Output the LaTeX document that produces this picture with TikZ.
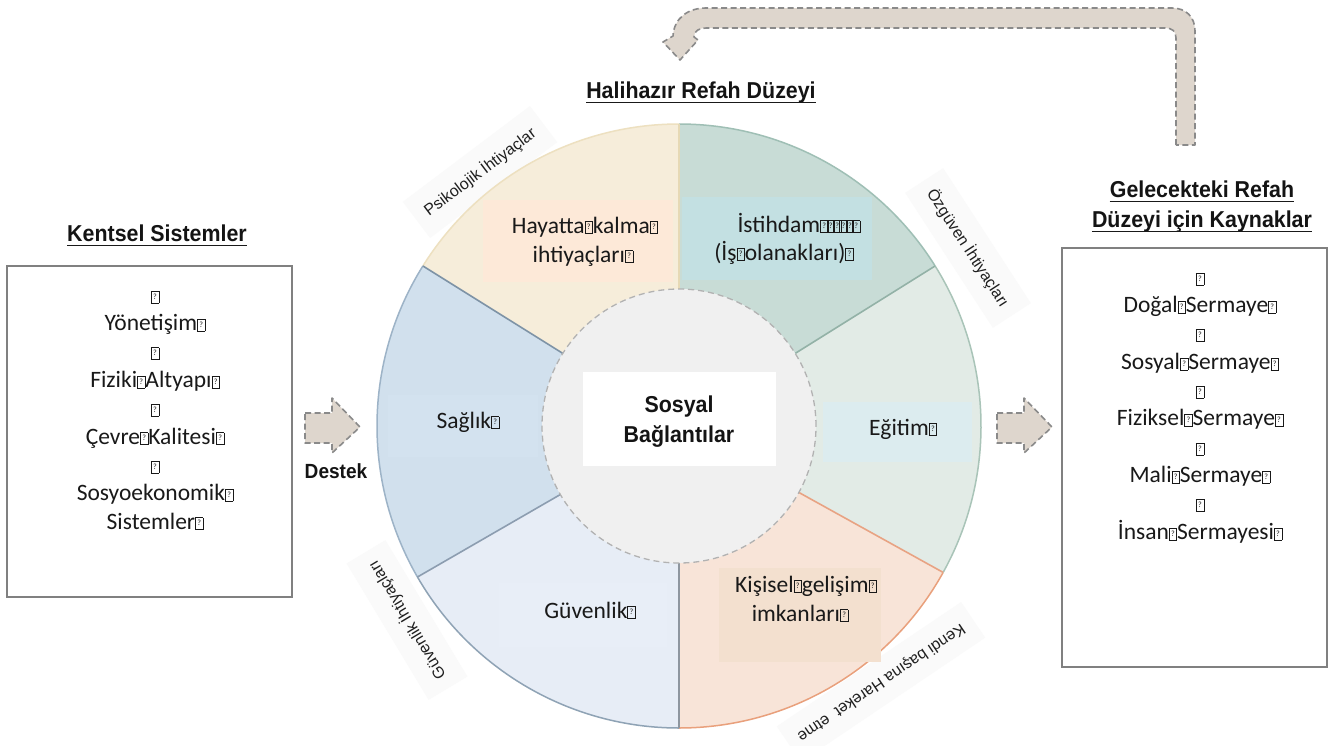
\documentclass[tikz,border=0pt]{standalone}
\usepackage{fontspec}
\setmainfont{Liberation Sans}
\newfontfamily\carl{Carlito}
\newfontfamily\hd[FakeStretch=0.93]{Liberation Sans Bold}
\definecolor{cTeal}{HTML}{C8DCD6}
\definecolor{cCream}{HTML}{F6EDDA}
\definecolor{cBlue}{HTML}{D1E0ED}
\definecolor{cLBlue}{HTML}{E7EDF6}
\definecolor{cPeach}{HTML}{F8E4D8}
\definecolor{cGreen}{HTML}{E2EBE6}
\definecolor{rTeal}{HTML}{9FBFB5}
\definecolor{rCream}{HTML}{EDE0C0}
\definecolor{rBlue}{HTML}{9DB3C7}
\definecolor{rLBlue}{HTML}{8FA3B5}
\definecolor{rPeach}{HTML}{E9A07C}
\definecolor{rGreen}{HTML}{A9C4B8}
\definecolor{dCream}{HTML}{E6D9B5}
\definecolor{dBlue}{HTML}{7E93A6}
\definecolor{dTeal}{HTML}{93B2A7}
\definecolor{dLBlue}{HTML}{8C9DB0}
\definecolor{dGray}{HTML}{8E969F}
\definecolor{dPeach}{HTML}{E8A383}
\definecolor{bHay}{HTML}{FDE9D8}
\definecolor{bIst}{HTML}{C3E0E2}
\definecolor{bSag}{HTML}{D3E2EF}
\definecolor{bEgi}{HTML}{DCECEF}
\definecolor{bGuv}{HTML}{E8EEF7}
\definecolor{bKis}{HTML}{F3E0CF}
\definecolor{labBand}{HTML}{FAFAFA}
\definecolor{arrFill}{HTML}{DED6CD}
\definecolor{arrLine}{HTML}{8A8A8A}
\newcommand\qb{\raisebox{-0.3pt}{\setlength\fboxsep{0pt}\setlength\fboxrule{0.6pt}\fbox{\parbox[c][10.5pt][c]{7pt}{\centering\fontsize{8}{8}\selectfont ?}}}}
\newcommand\qbs{\qb\kern-1.8pt}
\tikzset{
  bodytxt/.style={font=\carl\fontsize{23.5}{28}\selectfont, inner sep=0, anchor=base, text=black!90},
  hdtitle/.style={font=\hd\fontsize{23}{27}\selectfont, inner sep=0, anchor=base, text=black!92},
  uline/.style={line width=1.3pt, black!90},
  outlab/.style={font=\fontsize{16}{19}\selectfont, inner xsep=12pt, inner ysep=14pt, fill=labBand, text=black!88},
  listbox/.style={draw=black!50, line width=1.5pt, fill=white},
  blockarrow/.style={fill=arrFill, draw=arrLine, line width=1.6pt, dash pattern=on 6pt off 3.5pt, line join=round},
  innerdisc/.style={fill=black!6, draw=black!30, line width=1.3pt, dash pattern=on 6pt off 4pt},
  divider/.style={line width=1.6pt}
}
\begin{document}
\begin{tikzpicture}[x=1pt,y=-1pt]
\useasboundingbox (0,0) rectangle (1333,745);
\fill[white] (0,0) rectangle (1333,745);

% ---- labels round the wheel (their faint bands lie under the wheel) ----
\node[outlab, rotate=37]   (psi)  at (480,172) {Psikolojik İhtiyaçlar};
\node[outlab, rotate=-57]  (ozg)  at (968,248) {Özgüven İhtiyaçları};
\node[outlab, rotate=121]  (guvi) at (407,620) {Güvenlik İhtiyaçları};
\node[outlab, rotate=214]  (ken)  at (881,682) {Kendi başına Hareket\ \ etme};

% ---- wheel ----
\begin{scope}[shift={(679,426)},yscale=-1]
  \fill[cTeal]  (0,0) -- (32:302)  arc[start angle=32, end angle=90,  radius=302] -- cycle;
  \fill[cCream] (0,0) -- (90:302)  arc[start angle=90, end angle=148, radius=302] -- cycle;
  \fill[cBlue]  (0,0) -- (148:302) arc[start angle=148,end angle=210, radius=302] -- cycle;
  \fill[cLBlue] (0,0) -- (210:302) arc[start angle=210,end angle=270, radius=302] -- cycle;
  \fill[cPeach] (0,0) -- (270:302) arc[start angle=270,end angle=331, radius=302] -- cycle;
  \fill[cGreen] (0,0) -- (331:302) arc[start angle=331,end angle=392, radius=302] -- cycle;
  \draw[rTeal,  line width=1.5] (32:302)  arc[start angle=32, end angle=90,  radius=302];
  \draw[rCream, line width=1.5] (90:302)  arc[start angle=90, end angle=148, radius=302];
  \draw[rBlue,  line width=1.5] (148:302) arc[start angle=148,end angle=210, radius=302];
  \draw[rLBlue, line width=1.5] (210:302) arc[start angle=210,end angle=270, radius=302];
  \draw[rPeach, line width=1.5] (270:302) arc[start angle=270,end angle=331, radius=302];
  \draw[rGreen, line width=1.5] (331:302) arc[start angle=331,end angle=392, radius=302];
  \draw[divider, dCream] (0,0) -- (90:302);
  \draw[divider, dBlue]  (0,0) -- (148:302);
  \draw[divider, dTeal]  (0,0) -- (32:302);
  \draw[divider, dLBlue] (0,0) -- (210:302);
  \draw[divider, dGray]  (0,0) -- (270:302);
  \draw[divider, dPeach] (0,0) -- (331:302);
  \draw[innerdisc] (0,0) circle[radius=137];
\end{scope}

% ---- coloured text boxes inside the wheel ----
\fill[bHay] (483,200) rectangle (673,282);
\fill[bIst] (682,197) rectangle (872,280);
\fill[bSag] (388,395) rectangle (538,457);
\fill[bEgi] (823,402) rectangle (972,462);
\fill[bGuv] (499,583) rectangle (667,647);
\fill[bKis] (719,568) rectangle (881,662);
\fill[white] (583,372) rectangle (776,466);

\node[bodytxt] (hay1) at (585,233) {Hayatta\qb kalma\qb};
\node[bodytxt] (hay2) at (583,262) {ihtiyaçları\qb};
\node[bodytxt] (ist1) at (799,232) {İstihdam\qbs\qbs\qbs\qbs\qbs\qb};
\node[bodytxt] (ist2) at (784,260) {(İş\qb olanakları)\qb};
\node[bodytxt] (sag)  at (468,428) {Sağlık\qb};
\node[bodytxt] (egi)  at (903,435) {Eğitim\qb};
\node[bodytxt] (guv)  at (590,618) {Güvenlik\qb};
\node[bodytxt] (kis1) at (806,592) {Kişisel\qb gelişim\qb};
\node[bodytxt] (kis2) at (800,621) {imkanları\qb};

\node[hdtitle] (sos1) at (679,412) {Sosyal};
\node[hdtitle] (sos2) at (679,442) {Bağlantılar};

% ---- titles ----
\node[hdtitle] (tHal) at (701,98) {Halihazır Refah Düzeyi};
\draw[uline] ([yshift=-4.5pt]tHal.base west) -- ([yshift=-4.5pt]tHal.base east);
\node[hdtitle] (tKen) at (157,241) {Kentsel Sistemler};
\draw[uline] ([yshift=-4.5pt]tKen.base west) -- ([yshift=-4.5pt]tKen.base east);
\node[hdtitle] (tGel1) at (1202,197) {Gelecekteki Refah};
\draw[uline] ([yshift=-4.5pt]tGel1.base west) -- ([yshift=-4.5pt]tGel1.base east);
\node[hdtitle] (tGel2) at (1202,227) {Düzeyi için Kaynaklar};
\draw[uline] ([yshift=-4.5pt]tGel2.base west) -- ([yshift=-4.5pt]tGel2.base east);
\node[hdtitle, font=\hd\fontsize{20.5}{24}\selectfont] (dest) at (336,478) {Destek};

% ---- side boxes ----
\draw[listbox] (7,266) rectangle (292,597);
\draw[listbox] (1062,248) rectangle (1327,667);
\foreach \t [count=\i from 0] in {\qb, Yönetişim\qb, \qb, Fiziki\qb Altyapı\qb, \qb, Çevre\qb Kalitesi\qb, \qb, Sosyoekonomik\qb, Sistemler\qb}
  \node[bodytxt] (L\i) at (155,{302.4+28.33*\i}) {\t};
\foreach \t [count=\i from 0] in {\qb, Doğal\qb Sermaye\qb, \qb, Sosyal\qb Sermaye\qb, \qb, Fiziksel\qb Sermaye\qb, \qb, Mali\qb Sermaye\qb, \qb, İnsan\qb Sermayesi\qb}
  \node[bodytxt] (R\i) at (1200,{284.3+28.33*\i}) {\t};

% ---- block arrows ----
\draw[blockarrow] (305,413) -- (332,413) -- (332,398) -- (360,427) -- (332,453) -- (332,443) -- (305,443) -- cycle;
\draw[blockarrow] (997,413) -- (1024,413) -- (1024,398) -- (1052,427) -- (1024,453) -- (1024,443) -- (997,443) -- cycle;
\draw[blockarrow] (1176,145) -- (1176,38) .. controls (1176,31) and (1172,28) .. (1165,28)
  -- (706,28) .. controls (699,28) and (694,31) .. (694,37) -- (698,40) -- (680,60) -- (663,42)
  -- (673,36) .. controls (674,18) and (688,8) .. (706,8) -- (1172,8)
  .. controls (1186,8) and (1195,17) .. (1195,31) -- (1195,145) -- cycle;
\end{tikzpicture}
\end{document}
